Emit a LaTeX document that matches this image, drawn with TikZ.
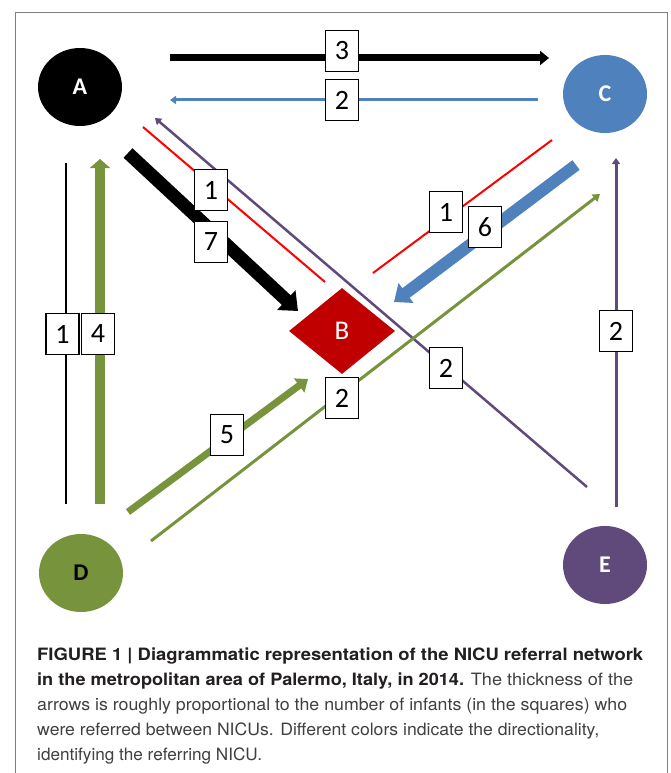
\documentclass[tikz,border=0pt]{standalone}
\usepackage{fontspec}
\setmainfont{TeX Gyre Heros}
\newfontfamily\calfont{Carlito}
\usetikzlibrary{arrows.meta,shapes.geometric}
\definecolor{nA}{HTML}{000000}
\definecolor{nB}{HTML}{C00000}
\definecolor{nC}{HTML}{4F81BD}
\definecolor{nD}{HTML}{77933C}
\definecolor{nE}{HTML}{604A7B}
\definecolor{redline}{HTML}{FF0000}
\definecolor{framegray}{HTML}{808080}
\definecolor{captbold}{HTML}{231F20}
\definecolor{captreg}{HTML}{404040}
\newsavebox\capbox
\newcommand\fitline[2]{\sbox\capbox{#2}\pgfmathsetmacro\capr{#1/\the\wd\capbox}\scalebox{\capr}[1]{\usebox\capbox}}
\begin{document}
\begin{tikzpicture}[x=1pt,y=-1pt,
  nicu/.style={ellipse, minimum width=84pt, minimum height=78pt, inner sep=0pt, font=\calfont\bfseries\fontsize{24}{28}\selectfont},
  numbox/.style={draw=black, line width=1.2pt, fill=white, minimum width=33pt, minimum height=41pt, inner sep=0pt, font=\calfont\fontsize{28}{32}\selectfont},
  captline/.style={anchor=base west, inner sep=0pt, font=\fontsize{17}{20}\selectfont, text=captreg},
  bighead/.style={-{Triangle[length=16pt,width=26pt]}},
  midhead/.style={-{Triangle[length=11pt,width=17pt]}},
  smallhead/.style={-{Triangle[length=6pt,width=8pt]}}
]
\useasboundingbox (0,0) rectangle (671,773);
\fill[white] (0,0) rectangle (671,773);
\draw[framegray, line width=1pt] (15,773) -- (15,13) -- (667,13) -- (667,773);

% NICU nodes
\node[nicu, fill=nA, text=white] (A) at (80,87) {A};
\node[nicu, fill=nC, text=white] (C) at (605,94) {C};
\node[nicu, fill=nD, text=black] (D) at (81,573) {D};
\node[nicu, fill=nE, text=white] (E) at (605,565) {E};
\node[diamond, fill=nB, minimum width=106pt, minimum height=86pt, inner sep=0pt, text=white, font=\calfont\fontsize{27}{30}\selectfont] (B) at (342,331) {B};

% connector end points
\coordinate (ac1) at (170,58);  \coordinate (ac2) at (549,58);
\coordinate (ca1) at (538,100); \coordinate (ca2) at (170,100);
\coordinate (ba1) at (325,282); \coordinate (ba2) at (143,127);
\coordinate (ea1) at (587,487); \coordinate (ea2) at (155,118);
\coordinate (ab1) at (128,153); \coordinate (ab2) at (298,311);
\coordinate (bc1) at (373,273); \coordinate (bc2) at (552,140);
\coordinate (cb1) at (576,165); \coordinate (cb2) at (394,302);
\coordinate (dc1) at (151,541); \coordinate (dc2) at (600,194);
\coordinate (ec1) at (616,507); \coordinate (ec2) at (616,158);
\coordinate (db1) at (128,512); \coordinate (db2) at (308,379);
\coordinate (da1) at (100,504); \coordinate (da2) at (100,159);
\coordinate (ad1) at (66,163);  \coordinate (ad2) at (66,504);

% connectors
\draw[nA, line width=7pt, -{Triangle[length=9pt,width=14pt]}] (ac1) -- (ac2);
\draw[nC, line width=3pt, smallhead] (ca1) -- (ca2);
\draw[redline, line width=2pt] (ba1) -- (ba2);
\draw[nE, line width=2.5pt, smallhead] (ea1) -- (ea2);
\draw[nA, line width=13pt, bighead] (ab1) -- (ab2);
\draw[redline, line width=2pt] (bc1) -- (bc2);
\draw[nC, line width=12pt, -{Triangle[length=15pt,width=24pt]}] (cb1) -- (cb2);
\draw[nD, line width=3pt, -{Triangle[length=7pt,width=9pt]}] (dc1) -- (dc2);
\draw[nE, line width=3pt, smallhead] (ec1) -- (ec2);
\draw[nD, line width=7pt, midhead] (db1) -- (db2);
\draw[nD, line width=10pt, -{Triangle[length=9pt,width=20pt]}] (da1) -- (da2);
\draw[nA, line width=2pt] (ad1) -- (ad2);

% number boxes
\node[numbox] (n3) at (342,51) {3};
\node[numbox] (n2a) at (342,100) {2};
\node[numbox] (n1a) at (211,190) {1};
\node[numbox] (n7) at (211,242) {7};
\node[numbox] (n1c) at (446,212) {1};
\node[numbox] (n6) at (485,227) {6};
\node[numbox] (n2e) at (616,331) {2};
\node[numbox] (n2d) at (446,368) {2};
\node[numbox] (n2g) at (342,398) {2};
\node[numbox] (n5) at (227,435) {5};
\node[numbox] (n1l) at (62.5,334) {1};
\node[numbox] (n4) at (98,334) {4};

% caption
\node[captline] (cap1) at (37,660) {\fitline{606}{\color{captbold}\bfseries FIGURE 1 | Diagrammatic representation of the NICU referral network}};
\node[captline] (cap2) at (37,685) {\fitline{596}{{\color{captbold}\bfseries in the metropolitan area of Palermo, Italy, in 2014.} The thickness of the}};
\node[captline] (cap3) at (37,710) {\fitline{590}{arrows is roughly proportional to the number of infants (in the squares) who}};
\node[captline] (cap4) at (37,735) {\fitline{562}{were referred between NICUs. Different colors indicate the directionality,}};
\node[captline] (cap5) at (37,760) {\fitline{225}{identifying the referring NICU.}};
\end{tikzpicture}
\end{document}
